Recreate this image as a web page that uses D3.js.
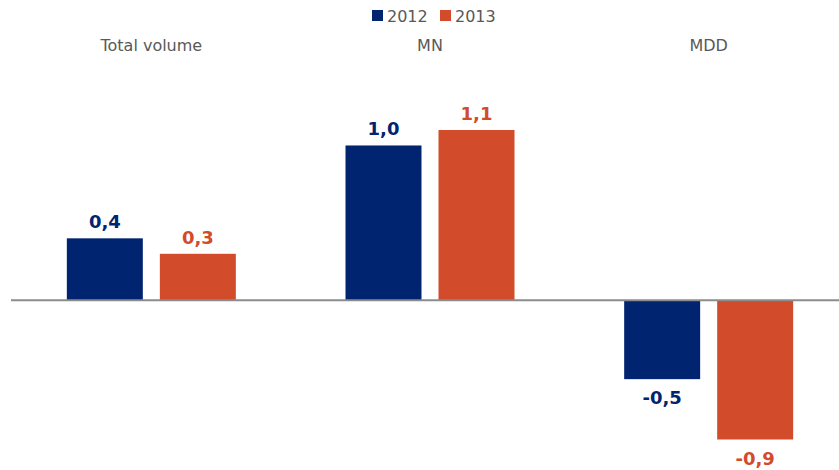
<!DOCTYPE html>
<html>
<head>
<meta charset="utf-8">
<script src="https://cdn.jsdelivr.net/npm/d3@7"></script>
<style>
  body { margin: 0; background: #fff; }
  text { font-family: "DejaVu Sans", Verdana, sans-serif; }
</style>
</head>
<body>
<div id="chart"></div>
<script>
// chart data
var categories = ["Total volume", "MN", "MDD"];
var seriesNames = ["2012", "2013"];
var values2012 = [0.4, 1.0, -0.51];
var values2013 = [0.3, 1.1, -0.9];
var colors = ["#00246F", "#D24B2A"];

var width = 839, height = 470;
var svg = d3.select("#chart").append("svg")
    .attr("width", width)
    .attr("height", height);

var X = d3.scaleBand()
    .domain(categories)
    .range([12, 848])
    .paddingInner(0)
    .paddingOuter(0);

var inner = d3.scaleBand()
    .domain(seriesNames)
    .range([0, 169])
    .paddingInner(0.183);

var Y = d3.scaleLinear()
    .domain([-0.9, 1.1])
    .range([439.5, 130]);

var rows = [];
categories.forEach(function (c, i) {
    rows.push({cat: c, s: 0, v: values2012[i]});
    rows.push({cat: c, s: 1, v: values2013[i]});
});

function barX(d) {
    return X(d.cat) + X.bandwidth() / 2 - 84.5 + inner(seriesNames[d.s]);
}

var fmt = function (v) { return d3.format(".1f")(v).replace(".", ",").replace("\u2212", "-"); };

svg.selectAll("rect.bar")
    .data(rows)
    .enter().append("rect")
    .attr("class", "bar")
    .attr("x", barX)
    .attr("width", inner.bandwidth())
    .attr("y", function (d) { return Y(Math.max(0, d.v)); })
    .attr("height", function (d) { return Math.abs(Y(d.v) - Y(0)); })
    .style("fill", function (d) { return colors[d.s]; });

// zero line
svg.append("line")
    .attr("x1", 11).attr("x2", 839)
    .attr("y1", Y(0)).attr("y2", Y(0))
    .style("stroke", "#8c8c8c")
    .style("stroke-width", 2);

// value labels
svg.selectAll("text.val")
    .data(rows)
    .enter().append("text")
    .attr("class", "val")
    .attr("x", function (d) { return barX(d) + inner.bandwidth() / 2; })
    .attr("y", function (d) { return d.v >= 0 ? Y(d.v) - 10 : Y(d.v) + 25; })
    .attr("text-anchor", "middle")
    .style("font-size", "18px")
    .style("font-weight", "bold")
    .style("fill", function (d) { return colors[d.s]; })
    .text(function (d) { return fmt(d.v); });

// category labels at top
svg.selectAll("text.cat")
    .data(categories)
    .enter().append("text")
    .attr("class", "cat")
    .attr("x", function (d) { return X(d) + X.bandwidth() / 2; })
    .attr("y", 51)
    .attr("text-anchor", "middle")
    .style("font-size", "16px")
    .style("fill", "#595959")
    .text(function (d) { return d; });

// legend
var legend = svg.selectAll("g.legend")
    .data(seriesNames)
    .enter().append("g")
    .attr("class", "legend")
    .attr("transform", function (d, i) { return "translate(" + (372 + i * 68) + ",0)"; });

legend.append("rect")
    .attr("x", 0).attr("y", 10)
    .attr("width", 11).attr("height", 11)
    .style("fill", function (d, i) { return colors[i]; });

legend.append("text")
    .attr("x", 15).attr("y", 22)
    .style("font-size", "16px")
    .style("fill", "#595959")
    .text(function (d) { return d; });
</script>
</body>
</html>
